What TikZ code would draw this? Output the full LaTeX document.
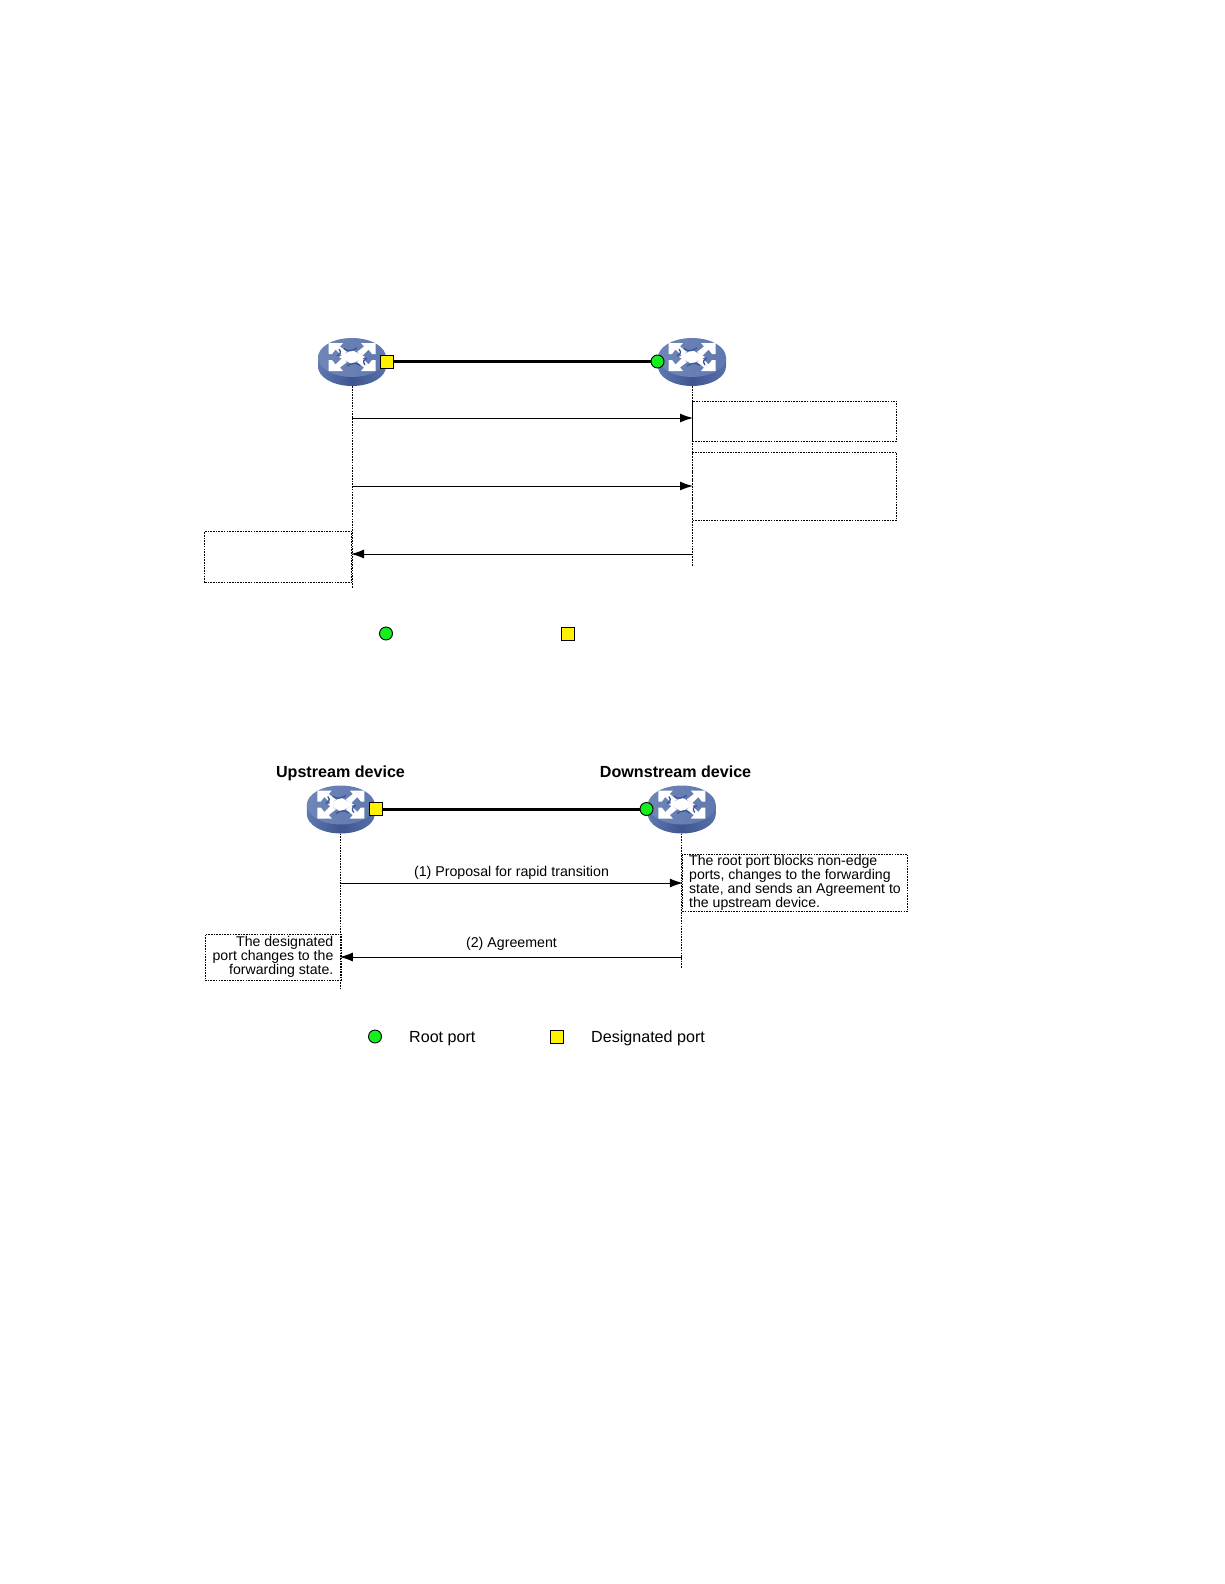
\documentclass[tikz,border=0pt]{standalone}
\usepackage{fontspec}
\setmainfont{Liberation Sans}
\usetikzlibrary{arrows.meta}
\definecolor{swtop}{HTML}{5F78AF}
\definecolor{swside}{HTML}{3F5591}
\definecolor{swdark}{HTML}{3C5595}
\definecolor{rootgreen}{HTML}{14F01E}
\tikzset{
    switchicon/.pic={
        \shade[left color=swtop, right color=swtop!80!swside, middle color=swside]
            (0,4.5) ellipse [x radius=34pt, y radius=19.5pt] (-34,-4.5) rectangle (34,4.5);
        \shade[left color=swtop!90!white, right color=swtop] (0,-4.5) ellipse [x radius=34pt, y radius=19.5pt];
        \begin{scope}[yshift=5pt]
            \foreach \sx/\sy in {1/1,-1/1,1/-1,-1/-1} {
                \begin{scope}[xscale=\sx, yscale=\sy]
                    \fill[white] (-23.5,-14) -- (-9,-14) -- (-12,-10.5) -- (-5,-5) -- (-10,-1) -- (-16.5,-7.5) -- (-20,-3) -- (-23.5,-3) -- cycle;
                \end{scope}
            }
            \fill[white] (0,-7) -- (13,0) -- (0,7) -- (-13,0) -- cycle;
            \foreach \sx/\sy in {1/1,-1/-1} {
                \begin{scope}[xscale=\sx, yscale=\sy]
                    \draw[swdark, line width=1.3pt] (-8,-8.5) .. controls (-4,-5) and (0,-6) .. (5,-9);
                    \draw[swdark, line width=1.3pt] (-15,-1) .. controls (-12,-3) and (-10,-4) .. (-13,-8);
                \end{scope}
            }
        \end{scope}
    },
    switchnode/.style={minimum width=68pt, minimum height=48pt, inner sep=0pt},
    rootport/.style={circle, draw=black, fill=rootgreen, line width=0.9pt, minimum size=13pt, inner sep=0pt},
    desport/.style={rectangle, draw=black, fill=yellow, line width=0.9pt, minimum size=13pt, inner sep=0pt},
    link/.style={line width=3pt},
    lifeline/.style={line width=1pt, dash pattern=on 1.6pt off 1.1pt},
    msg/.style={line width=1pt, shorten >=-1pt, -{Latex[length=13pt, width=9pt]}},
    notebox/.style={draw, line width=1pt, dash pattern=on 1.6pt off 1.1pt, inner xsep=7pt, inner ysep=0pt, font=\fontsize{14.1}{14.2}\selectfont},
    msglabel/.style={font=\fontsize{14.2}{14.2}\selectfont, inner sep=0pt},
    devlabel/.style={font=\fontsize{16.1}{17}\selectfont\bfseries, inner sep=0pt, anchor=base},
    legendtext/.style={font=\fontsize{16.1}{17}\selectfont, inner sep=0pt, anchor=west},
}
\begin{document}
\begin{tikzpicture}[x=1pt, y=-1pt]
    \useasboundingbox (0,0) rectangle (1224,1584);

    % upper exchange
    \node[switchnode] (swa) at (352,362) {};
    \pic at (swa) {switchicon};
    \node[switchnode] (swb) at (692,362) {};
    \pic at (swb) {switchicon};
    \node[desport] (dpa) at (387,361.5) {};
    \node[rootport] (rpa) at (657.5,361.5) {};
    \draw[link] (dpa) -- (rpa);

    \coordinate (enda) at (352,588);
    \coordinate (endb) at (692,566);
    \draw[lifeline] (swa.south) -- (enda);
    \draw[lifeline] (swb.south) -- (endb);

    \coordinate (a1) at (352,418);
    \coordinate (b1) at (692,418);
    \coordinate (a2) at (351.5,486);
    \coordinate (b2) at (692,486);
    \coordinate (a3) at (352,554);
    \coordinate (b3) at (692,554);
    \draw[msg] (a1) -- (b1);
    \draw[msg] (a2) -- (b2);
    \draw[msg] (b3) -- (a3);

    \node[notebox, minimum width=204pt, minimum height=40pt] (noa) at (794.5,421) {};
    \node[notebox, minimum width=204pt, minimum height=68.5pt] (nob) at (794.5,486.3) {};
    \node[notebox, minimum width=146.5pt, minimum height=51.5pt] (noc) at (278.2,557) {};

    \node[rootport] (lra) at (386,633.5) {};
    \node[desport] (lda) at (567.5,633.5) {};

    % lower exchange
    \node[devlabel] (upl) at (340.5,777.8) {Upstream device};
    \node[devlabel] (dnl) at (675.6,777.8) {Downstream device};
    \node[switchnode] (swc) at (340.8,809.5) {};
    \pic at (swc) {switchicon};
    \node[switchnode] (swd) at (681.8,809.5) {};
    \pic at (swd) {switchicon};
    \node[desport] (dpb) at (376,809) {};
    \node[rootport] (rpb) at (646.5,809) {};
    \draw[link] (dpb) -- (rpb);

    \coordinate (endc) at (340.8,988);
    \coordinate (endd) at (681.8,968.5);
    \draw[lifeline] (swc.south) -- (endc);
    \draw[lifeline] (swd.south) -- (endd);

    \coordinate (c1) at (340.8,883);
    \coordinate (d1) at (681.8,883);
    \coordinate (c2) at (340.8,957);
    \coordinate (d2) at (681.8,957);
    \draw[msg] (c1) -- (d1);
    \draw[msg] (d2) -- (c2);
    \node[msglabel] (msa) at (511.5,872.8) {(1) Proposal for rapid transition};
    \node[msglabel] (msb) at (511.5,944) {(2) Agreement};

    \node[notebox, minimum width=225.5pt, minimum height=57pt, align=left] (nod) at (795,883)
        {The root port blocks non-edge\\ports, changes to the forwarding\\state, and sends an Agreement to\\the upstream device.};
    \node[notebox, minimum width=136pt, minimum height=46pt, align=right] (noe) at (273,957)
        {The designated\\port changes to the\\forwarding state.};

    \node[rootport] (lrb) at (375,1036.5) {};
    \node[legendtext] (ltr) at (409,1038.5) {Root port};
    \node[desport] (ldb) at (556.5,1036.5) {};
    \node[legendtext] (ltd) at (591,1038.5) {Designated port};
\end{tikzpicture}
\end{document}
